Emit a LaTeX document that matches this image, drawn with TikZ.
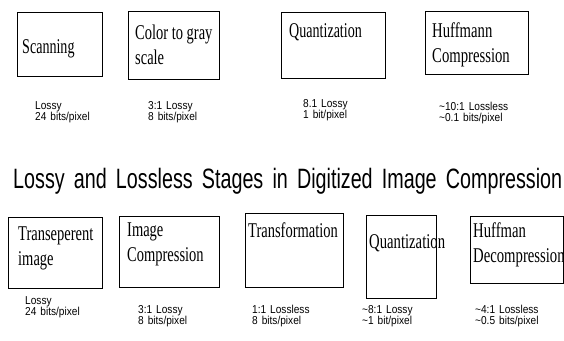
\documentclass[tikz,border=0pt]{standalone}
\usepackage{fontspec}
\usepackage{graphicx}
\setmainfont{Liberation Serif}
\newfontfamily\arialf{Liberation Sans}
\newcommand{\boxtxt}[2][0.67]{\scalebox{#1}[1]{\fontsize{21}{25}\selectfont\begin{tabular}[t]{@{}l@{}}#2\end{tabular}}}
\newcommand{\lbltxt}[1]{\scalebox{0.88}[1]{\arialf\fontsize{11.5}{11}\selectfont\spaceskip=4.5pt\begin{tabular}[t]{@{}l@{}}#1\end{tabular}}}
\begin{document}
\begin{tikzpicture}[x=1pt,y=-1pt,
  stagebox/.style={draw=black,line width=1pt,inner sep=0pt,minimum width=#1},
  txt/.style={anchor=base west,inner sep=0pt},
  lbl/.style={anchor=base west,inner sep=0pt}]
\useasboundingbox (0,0) rectangle (564,340);
% top row boxes
\node[stagebox=85pt,minimum height=64pt] (s1) at (59.5,44) {};
\node[stagebox=91pt,minimum height=68pt] (s2) at (173.5,45) {};
\node[stagebox=104pt,minimum height=66pt] (s3) at (333,45) {};
\node[stagebox=103pt,minimum height=63pt] (s4) at (476.5,42.5) {};
\node[txt] (s1t) at (22,53) {\boxtxt{Scanning}};
\node[txt] (s2t) at (135,39) {\boxtxt[0.69]{Color to gray\\scale}};
\node[txt] (s3t) at (289,37) {\boxtxt{Quantization}};
\node[txt] (s4t) at (432,37) {\boxtxt[0.7]{Huffmann\\Compression}};
\node[lbl] (s1l) at (35,109) {\lbltxt{Lossy\\24 bits/pixel}};
\node[lbl] (s2l) at (148,109) {\lbltxt{3:1 Lossy\\8 bits/pixel}};
\node[lbl] (s3l) at (303,107) {\lbltxt{8.1 Lossy\\1 bit/pixel}};
\node[lbl] (s4l) at (439,110) {\lbltxt{\char`\~10:1 Lossless\\\char`\~0.1 bits/pixel}};
% title
\node[anchor=base west,inner sep=0pt] (title) at (13,188) {\resizebox{549pt}{\height}{\arialf\fontsize{28}{28}\selectfont\spaceskip=13pt Lossy and Lossless Stages in Digitized Image Compression}};
% bottom row boxes
\node[stagebox=94pt,minimum height=71pt] (b1) at (55,252.5) {};
\node[stagebox=100pt,minimum height=71pt] (b2) at (169,251.5) {};
\node[stagebox=98pt,minimum height=74pt] (b3) at (294,250) {};
\node[stagebox=70pt,minimum height=83pt] (b4) at (401,256.5) {};
\node[stagebox=93pt,minimum height=67pt] (b5) at (516.5,249.5) {};
\node[txt] (b1t) at (18,240) {\boxtxt[0.69]{Transeperent\\image}};
\node[txt] (b2t) at (127,236) {\boxtxt[0.69]{Image\\Compression}};
\node[txt] (b3t) at (248,237) {\boxtxt[0.69]{Transformation}};
\node[txt] (b4t) at (369,248) {\boxtxt[0.7]{Quantization}};
\node[txt] (b5t) at (473,237) {\boxtxt[0.7]{Huffman\\Decompression}};
\node[lbl] (b1l) at (25,304) {\lbltxt{Lossy\\24 bits/pixel}};
\node[lbl] (b2l) at (138,313) {\lbltxt{3:1 Lossy\\8 bits/pixel}};
\node[lbl] (b3l) at (252,313) {\lbltxt{1:1 Lossless\\8 bits/pixel}};
\node[lbl] (b4l) at (362,313) {\lbltxt{\char`\~8:1 Lossy\\\char`\~1 bit/pixel}};
\node[lbl] (b5l) at (475,313) {\lbltxt{\char`\~4:1 Lossless\\\char`\~0.5 bits/pixel}};
\end{tikzpicture}
\end{document}
